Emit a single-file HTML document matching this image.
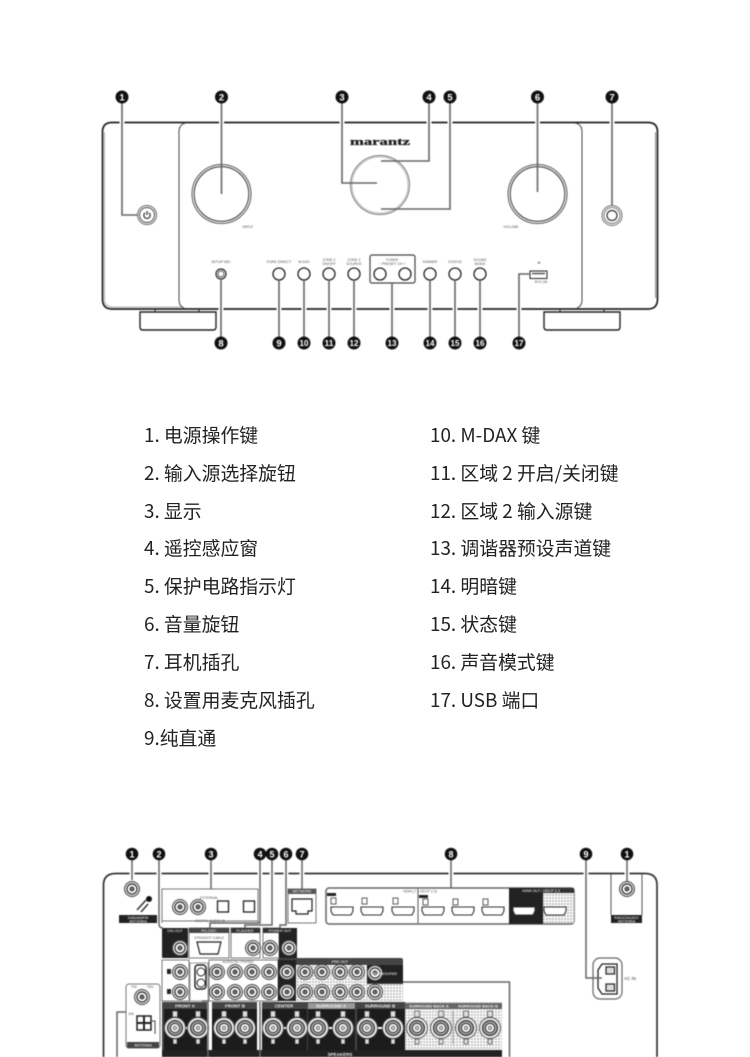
<!DOCTYPE html>
<html lang="zh"><head><meta charset="utf-8"><title>Marantz</title>
<style>
html,body{margin:0;padding:0;background:#fff}
#p{position:relative;width:750px;height:1057px;overflow:hidden;background:#fff}
svg{position:absolute;left:0;top:0;filter:blur(.4px)}
.t{position:absolute;font:18.85px/24px "Noto Sans CJK SC","Liberation Sans",sans-serif;color:#222;white-space:nowrap}
</style></head><body><div id="p">
<svg width="750" height="1057" viewBox="0 0 750 1057" font-family="Liberation Sans, sans-serif">
<defs>
<pattern id="dots" width="3" height="3" patternUnits="userSpaceOnUse"><rect width="3" height="3" fill="#fff"/><rect width="2" height="2" fill="#c4c4c4"/></pattern>
<g id="rca"><circle r="7.500" fill="#ddd" stroke="#444" stroke-width="1"/><circle r="5" fill="#fff" stroke="#333" stroke-width="1.200"/><circle r="2.200" fill="#666" stroke="#222" stroke-width=".6"/></g>
<g id="hdmi"><path d="M-11-4H11V0L9 4H-9L-11 0Z" fill="#fff" stroke="#333" stroke-width="1.100"/></g>
<g id="term"><circle r="10.500" fill="#eee" stroke="#555"/><circle r="7.500" fill="#999" stroke="#222"/><circle r="4.500" fill="#fff" stroke="#333"/><circle r="1.800" fill="#ccc" stroke="#333" stroke-width=".6"/><rect x="-2.500" y="-17" width="5" height="6" fill="#ddd" stroke="#333" stroke-width=".6"/><rect x="-2" y="11" width="4" height="5" fill="#ddd" stroke="#333" stroke-width=".6"/></g>
</defs>

<!-- FRONT -->
<g fill="none" stroke="#222">
<path d="M112 122.500H648Q657.500 122.500 657.500 132V299Q657.500 309 648 309H112Q102.500 309 102.500 299V132Q102.500 122.500 112 122.500Z" stroke-width="1.700"/>
<path d="M104.500 132V299Q104.500 306 111 307H182" stroke="#999" stroke-width=".8"/>
<path d="M186 123Q179 124 179 132V300Q179 306 184 308M575 123Q582 124 582 132V300Q582 306 577 308" stroke="#444" stroke-width="1"/>
<path d="M655.500 132V298" stroke="#888" stroke-width="1"/>
<path d="M140 312H216V327Q216 330 213 330H143Q140 330 140 327Z" stroke-width="1.400"/>
<path d="M544 312H620V327Q620 330 617 330H547Q544 330 544 327Z" stroke-width="1.400"/>
<path d="M155 309V312M199 309V312M560 309V312M604 309V312" stroke-width="1"/>
<circle cx="221.500" cy="194" r="29.500" stroke="#555" stroke-width="1"/><circle cx="221.500" cy="194" r="27.300" stroke="#444" stroke-width="1.100"/>
<circle cx="380" cy="185" r="29.500" stroke="#777" stroke-width="1"/><circle cx="380" cy="185" r="28" stroke="#bbb" stroke-width="1"/>
<circle cx="537.500" cy="194" r="29.500" stroke="#555" stroke-width="1"/><circle cx="537.500" cy="194" r="27.300" stroke="#444" stroke-width="1.100"/>
<circle cx="147" cy="215" r="9.500" stroke="#666" stroke-width="1"/><circle cx="147" cy="215" r="7.500" stroke="#444" stroke-width="1"/>
<path d="M145 212.800a3.200 3.200 0 1 0 4 0M147 211v4" stroke-width="1.100"/>
<circle cx="612" cy="215.500" r="10" stroke="#666"/><circle cx="612" cy="215.500" r="8" stroke="#777"/><circle cx="612" cy="215.500" r="5" stroke="#333" stroke-width="1.200"/>
<circle cx="221" cy="274" r="5" stroke-width="1.200"/><circle cx="221" cy="274" r="3" stroke="#555" stroke-width="1"/>
<rect x="370" y="255" width="45" height="28" rx="2" stroke="#444" stroke-width="1.200"/>
<rect x="530" y="271" width="17" height="7.500" stroke-width="1"/>
<path d="M532 273.500H545" stroke="#555" stroke-width="1.500"/>
</g>
<g fill="#fff" stroke="#222" stroke-width="1.300">
<circle cx="279" cy="274" r="6"/><circle cx="304" cy="274" r="6"/><circle cx="329" cy="274" r="6"/><circle cx="354" cy="274" r="6"/>
<circle cx="380" cy="274" r="6"/><circle cx="405" cy="274" r="6"/><circle cx="430" cy="274" r="6"/><circle cx="455" cy="274" r="6"/><circle cx="480" cy="274" r="6"/>
</g>
<text x="380" y="145" font-family="Liberation Serif, serif" font-weight="bold" font-size="11" text-anchor="middle" textLength="60" lengthAdjust="spacingAndGlyphs" fill="#222" stroke="#222" stroke-width=".35">marantz</text>
<g font-size="3.600" fill="#555" text-anchor="middle">
<text x="248" y="228">INPUT</text><text x="511" y="228">VOLUME</text>
<text x="221" y="263">SETUP MIC</text><text x="279" y="263">PURE DIRECT</text><text x="304" y="263">M-DAX</text>
<text x="329" y="261">ZONE 2</text><text x="329" y="265">ON/OFF</text><text x="354" y="261">ZONE 2</text><text x="354" y="265">SOURCE</text>
<text x="392" y="261">TUNER</text><text x="392" y="265">− PRESET CH +</text>
<text x="430" y="263">DIMMER</text><text x="455" y="263">STATUS</text><text x="480" y="261">SOUND</text><text x="480" y="265">MODE</text>
<text x="539" y="264">⇄</text><text x="541" y="283">5V/1.5A</text>
</g>
<!-- gaps in body lines at leaders -->
<path d="M122 120V126M221.500 120V126M342 120V126M429 120V126M450 120V126M537.500 120V126M612 120V126M221 306V312M279 306V312M304 306V312M329 306V312M354 306V312M392 306V312M430 306V312M455 306V312M480 306V312M519 306V312" stroke="#fff" stroke-width="5" fill="none"/>
<!-- front leaders -->
<g fill="none" stroke="#666" stroke-width="1.600">
<path d="M122 100V215H137"/><path d="M221.500 100V194"/><path d="M342 100V183H377"/><path d="M429 100V161H381"/><path d="M450 100V209H381"/><path d="M537.500 100V192"/><path d="M612 100V205"/>
<path d="M221 279V340M279 280V340M304 280V340M329 280V340M354 280V340M392 283V340M430 280V340M455 280V340M480 280V340"/>
<path d="M530 274H519V340"/>
</g>
<g fill="#111">
<circle cx="122" cy="97" r="6.500"/><circle cx="221.500" cy="97" r="6.500"/><circle cx="342" cy="97" r="6.500"/><circle cx="429" cy="97" r="6.500"/><circle cx="450" cy="97" r="6.500"/><circle cx="537.500" cy="97" r="6.500"/><circle cx="612" cy="97" r="6.500"/>
<circle cx="221" cy="343" r="6.500"/><circle cx="279" cy="343" r="6.500"/><circle cx="304" cy="343" r="6.500"/><circle cx="329" cy="343" r="6.500"/><circle cx="354" cy="343" r="6.500"/><circle cx="392" cy="343" r="6.500"/><circle cx="430" cy="343" r="6.500"/><circle cx="455" cy="343" r="6.500"/><circle cx="480" cy="343" r="6.500"/><circle cx="519" cy="343" r="6.500"/>
</g>
<g fill="#fff" font-weight="bold" font-size="9.500" text-anchor="middle">
<text x="122" y="100.500">1</text><text x="221.500" y="100.500">2</text><text x="342" y="100.500">3</text><text x="429" y="100.500">4</text><text x="450" y="100.500">5</text><text x="537.500" y="100.500">6</text><text x="612" y="100.500">7</text>
<text x="221" y="346.500">8</text><text x="279" y="346.500">9</text>
</g>
<g fill="#fff" font-weight="bold" font-size="8" text-anchor="middle">
<text x="304" y="346" textLength="9" lengthAdjust="spacingAndGlyphs">10</text><text x="329" y="346" textLength="9" lengthAdjust="spacingAndGlyphs">11</text><text x="354" y="346" textLength="9" lengthAdjust="spacingAndGlyphs">12</text><text x="392" y="346" textLength="9" lengthAdjust="spacingAndGlyphs">13</text><text x="430" y="346" textLength="9" lengthAdjust="spacingAndGlyphs">14</text><text x="455" y="346" textLength="9" lengthAdjust="spacingAndGlyphs">15</text><text x="480" y="346" textLength="9" lengthAdjust="spacingAndGlyphs">16</text><text x="519" y="346" textLength="9" lengthAdjust="spacingAndGlyphs">17</text>
</g>

<!-- REAR body -->
<path d="M103.500 1057V885Q103.500 873.500 116 873.500H645Q657 873.500 657 885V1057" fill="none" stroke="#333" stroke-width="1.700"/>
<path d="M132 871V876M159 871V876M211 871V876M260 871V876M272 871V876M286 871V876M302 871V876M451 871V876M586 871V876M627 871V876" stroke="#fff" stroke-width="5" fill="none"/>
<!-- top antenna -->
<path d="M611 874V915M642 874V915" stroke="#555" fill="none"/>
<rect x="119" y="915" width="38" height="8" fill="#222"/><rect x="611" y="915" width="31" height="8" fill="#222"/>
<use href="#rca" x="132" y="889"/><use href="#rca" x="627" y="889"/>
<circle cx="149" cy="899" r="3" fill="#111"/><path d="M137 910L146 900M141 912L148 904" stroke="#333" stroke-width="1.500" fill="none"/>
<!-- digital box -->
<path d="M162 923V889H258V923M162 921H258" fill="none" stroke="#777" stroke-width="1"/>
<use href="#rca" x="180" y="907"/><use href="#rca" x="198" y="907"/>
<rect x="217.500" y="901" width="11" height="11" fill="#fff" stroke="#222" stroke-width="1.300"/><rect x="243.500" y="901" width="11" height="11" fill="#fff" stroke="#222" stroke-width="1.300"/>
<!-- network -->
<rect x="288" y="889" width="28" height="34" fill="#fff" stroke="#777"/><rect x="288" y="889" width="28" height="5" fill="#555"/>
<path d="M292 899H312V911H308V914H296V911H292Z" fill="#fff" stroke="#222" stroke-width="1.200"/>
<!-- hdmi -->
<rect x="326" y="888" width="248" height="36" rx="3" fill="#fff" stroke="#666" stroke-width="1.500"/>
<rect x="509" y="888" width="65" height="5" fill="#333"/>
<rect x="509" y="888" width="34" height="36" fill="#222"/><rect x="543" y="893" width="31" height="30" fill="url(#dots)"/>
<path d="M418 889V923" stroke="#555"/>
<rect x="419" y="895" width="9" height="3" fill="#222"/><rect x="327" y="893" width="9" height="3" fill="#222"/>
<use href="#hdmi" x="342" y="911"/><use href="#hdmi" x="372" y="911"/><use href="#hdmi" x="403" y="911"/><use href="#hdmi" x="433" y="911"/><use href="#hdmi" x="463" y="911"/><use href="#hdmi" x="493" y="911"/><use href="#hdmi" x="524" y="911"/><use href="#hdmi" x="555" y="911"/>
<g fill="none" stroke="#333" stroke-width=".8"><rect x="331" y="898" width="5" height="6"/><rect x="362" y="898" width="5" height="6"/><rect x="393" y="898" width="5" height="6"/><rect x="423" y="899" width="5" height="6"/><rect x="453" y="899" width="5" height="6"/><rect x="483" y="899" width="5" height="6"/></g>
<!-- row 2 -->
<rect x="162" y="928" width="26" height="30" rx="1" fill="#222"/>
<rect x="189" y="928" width="40" height="30" fill="#fff" stroke="#777"/><rect x="189" y="928" width="40" height="5" fill="#444"/>
<rect x="231" y="928" width="29" height="30" fill="#fff" stroke="#777"/><rect x="231" y="928" width="29" height="5" fill="#333"/>
<rect x="263" y="928" width="16" height="30" fill="#fff" stroke="#777"/><rect x="263" y="928" width="34" height="5" fill="#333"/>
<rect x="279" y="928" width="18" height="30" fill="#222"/>
<use href="#rca" x="180" y="948"/><use href="#rca" x="253" y="948"/><use href="#rca" x="270" y="948"/><use href="#rca" x="289" y="948"/>
<path d="M197 942H221L218 954H200Z" fill="#fff" stroke="#222" stroke-width="1.200"/>
<!-- row 3 -->
<rect x="162" y="960" width="27" height="41" fill="#fff" stroke="#777"/>
<rect x="190" y="963" width="18" height="38" fill="#fff" stroke="#999"/>
<rect x="195" y="965" width="11" height="24" rx="3" fill="#fff" stroke="#222" stroke-width="1.500"/>
<circle cx="201" cy="972" r="4" fill="#fff" stroke="#222"/><circle cx="201" cy="983" r="4" fill="#fff" stroke="#222"/>
<rect x="209" y="960" width="69" height="41" fill="#fff" stroke="#777"/>
<rect x="278" y="958" width="125" height="43" rx="2" fill="#444"/><rect x="278" y="960" width="18" height="41" fill="#222"/>
<rect x="296" y="965" width="71" height="36" fill="url(#dots)"/><rect x="367" y="965" width="36" height="18" fill="#222"/><rect x="367" y="984" width="36" height="17" fill="url(#dots)"/>
<rect x="167" y="969" width="4" height="5" fill="#222"/><rect x="167" y="989" width="4" height="5" fill="#222"/>
<use href="#rca" x="180" y="972"/><use href="#rca" x="180" y="992"/>
<use href="#rca" x="217" y="972"/><use href="#rca" x="235" y="972"/><use href="#rca" x="252" y="972"/><use href="#rca" x="269" y="972"/>
<use href="#rca" x="217" y="992"/><use href="#rca" x="235" y="992"/><use href="#rca" x="252" y="992"/><use href="#rca" x="269" y="992"/>
<use href="#rca" x="287" y="972"/><use href="#rca" x="287" y="992"/>
<use href="#rca" x="305" y="972"/><use href="#rca" x="322" y="972"/><use href="#rca" x="340" y="972"/><use href="#rca" x="357" y="972"/>
<use href="#rca" x="305" y="992"/><use href="#rca" x="322" y="992"/><use href="#rca" x="340" y="992"/><use href="#rca" x="357" y="992"/>
<use href="#rca" x="375" y="973"/><use href="#rca" x="375" y="992"/>
<!-- speakers -->
<rect x="162" y="1002" width="340" height="55" fill="#444"/>
<rect x="405" y="1002" width="97" height="48" fill="url(#dots)"/>
<rect x="164" y="1009" width="43" height="41" fill="#1c1c1c"/><rect x="212" y="1009" width="45" height="41" fill="#1c1c1c"/>
<rect x="207" y="1002" width="5" height="48" fill="#fff"/><rect x="257" y="1002" width="5" height="48" fill="#fff"/>
<rect x="262" y="1009" width="45" height="41" fill="#1c1c1c"/><rect x="308" y="1009" width="47" height="41" fill="#1c1c1c"/><rect x="357" y="1009" width="48" height="41" fill="#1c1c1c"/>
<rect x="162" y="1050" width="340" height="7" fill="#222"/>
<rect x="405" y="1003" width="97" height="6" fill="#666"/><rect x="308" y="1003" width="47" height="6" fill="#999"/>
<path d="M453 1011V1044" stroke="#999"/>
<g stroke="#fff" stroke-width="2"><path d="M175 1028H198M224 1028H245M273 1028H297M318 1028H343M367 1028H393M417 1028H441M466 1028H490"/></g>
<use href="#term" x="175" y="1028"/><use href="#term" x="198" y="1028"/><use href="#term" x="224" y="1028"/><use href="#term" x="245" y="1028"/><use href="#term" x="273" y="1028"/><use href="#term" x="297" y="1028"/><use href="#term" x="318" y="1028"/><use href="#term" x="343" y="1028"/><use href="#term" x="367" y="1028"/><use href="#term" x="393" y="1028"/><use href="#term" x="417" y="1028"/><use href="#term" x="441" y="1028"/><use href="#term" x="466" y="1028"/><use href="#term" x="490" y="1028"/>
<!-- ant box -->
<rect x="126" y="984" width="34" height="64" rx="3" fill="#fff" stroke="#777"/><rect x="127" y="1042" width="32" height="6" fill="#444"/>
<use href="#rca" x="142" y="997"/>
<rect x="137" y="1016" width="14" height="14" fill="#fff" stroke="#222" stroke-width="1.500"/><path d="M137 1023H151M144 1016V1030" stroke="#222" stroke-width="2"/><path d="M151 1021H155V1034" fill="none" stroke="#444"/>
<!-- AC -->
<rect x="593" y="958" width="29" height="41" rx="7" fill="#fff" stroke="#666" stroke-width="1.200"/>
<path d="M602 964H617V994H602L598 988V970Z" fill="#fff" stroke="#222" stroke-width="1.300"/>
<rect x="606" y="967" width="8.500" height="7" fill="#ddd" stroke="#222" stroke-width="1.200"/><rect x="606" y="984" width="8.500" height="7" fill="#ddd" stroke="#222" stroke-width="1.200"/>
<text x="630" y="980" font-size="4.500" fill="#444" text-anchor="middle">AC IN</text>
<!-- rear small labels -->
<g font-size="3.700" fill="#fff" text-anchor="middle">
<text x="138" y="919">DAB/AM/FM</text><text x="138" y="922.500">ANTENNA</text>
<text x="626.500" y="919">RADIO/AUDIO</text><text x="626.500" y="922.500">ANTENNA</text>
<text x="302" y="892.500">NETWORK</text><text x="541" y="892">HDMI OUT / HDCP 2.3</text>
<text x="175" y="932">DIG.OUT</text><text x="209" y="932">RS-232C</text><text x="245" y="932">FLASHER</text><text x="280" y="932">POWER OUT</text>
<text x="340" y="963">PRE OUT</text><text x="385" y="975">SUBWOOFER</text>
<text x="143" y="1046.500">ANTENNA</text>
</g>
<g font-size="4.500" font-weight="bold" fill="#eee" text-anchor="middle">
<text x="185" y="1007.500">FRONT A</text><text x="235" y="1007.500">FRONT B</text><text x="284" y="1007.500">CENTER</text><text x="331" y="1007.500">SURROUND A</text><text x="380" y="1007.500">SURROUND B</text><text x="429" y="1007.500" font-size="4">SURROUND BACK A</text><text x="478" y="1007.500" font-size="4">SURROUND BACK B</text><text x="340" y="1056">SPEAKERS</text>
</g>
<g font-size="3.500" fill="#555" text-anchor="middle">
<text x="420" y="892.500">HDMI (7.1 HDCP 2.3)</text><text x="209" y="899">EXTERNAL</text><text x="210" y="922">DIGITAL AUDIO IN</text><text x="209" y="939">STRAIGHT CABLE</text><text x="238" y="963">AUDIO IN / PHONO</text>
<text x="134" y="988">FM</text><text x="150" y="988">75Ω</text><text x="131" y="1015">AM</text>
</g>
<!-- rear leaders -->
<g fill="none" stroke="#666" stroke-width="1.500">
<path d="M132 857V880"/><path d="M159 857V924Q159 928 163 928"/><path d="M211 857V889"/><path d="M260 857V923H210V928"/><path d="M272 857V925H245V928"/><path d="M286 857V925H280V928"/><path d="M302 857V889"/><path d="M451 857V888"/><path d="M586 857V978H602"/><path d="M627 857V881"/>
<path d="M126 1012H117V1057"/><path d="M202 1001H208V1057"/><path d="M260 1002V1057"/><path d="M403 982H509.500V1057"/>
</g>
<g fill="#111">
<circle cx="132" cy="854" r="6.300"/><circle cx="159" cy="854" r="6.300"/><circle cx="211" cy="854" r="6.300"/><circle cx="260" cy="854" r="6.300"/><circle cx="272" cy="854" r="6.300"/><circle cx="286" cy="854" r="6.300"/><circle cx="302" cy="854" r="6.300"/><circle cx="451" cy="854" r="6.300"/><circle cx="586" cy="854" r="6.300"/><circle cx="627" cy="854" r="6.300"/>
</g>
<g fill="#fff" font-weight="bold" font-size="9" text-anchor="middle">
<text x="132" y="857.500">1</text><text x="159" y="857.500">2</text><text x="211" y="857.500">3</text><text x="260" y="857.500">4</text><text x="272" y="857.500">5</text><text x="286" y="857.500">6</text><text x="302" y="857.500">7</text><text x="451" y="857.500">8</text><text x="586" y="857.500">9</text><text x="627" y="857.500">1</text>
</g>
</svg>

<div class="t" style="left:144px;top:423px">1. 电源操作键</div>
<div class="t" style="left:144px;top:461px">2. 输入源选择旋钮</div>
<div class="t" style="left:144px;top:499px">3. 显示</div>
<div class="t" style="left:144px;top:536px">4. 遥控感应窗</div>
<div class="t" style="left:144px;top:574px">5. 保护电路指示灯</div>
<div class="t" style="left:144px;top:612px">6. 音量旋钮</div>
<div class="t" style="left:144px;top:650px">7. 耳机插孔</div>
<div class="t" style="left:144px;top:688px">8. 设置用麦克风插孔</div>
<div class="t" style="left:144px;top:726px">9.纯直通</div>
<div class="t" style="left:430px;top:423px">10. M-DAX 键</div>
<div class="t" style="left:430px;top:461px">11. 区域 2 开启/关闭键</div>
<div class="t" style="left:430px;top:499px">12. 区域 2 输入源键</div>
<div class="t" style="left:430px;top:536px">13. 调谐器预设声道键</div>
<div class="t" style="left:430px;top:574px">14. 明暗键</div>
<div class="t" style="left:430px;top:612px">15. 状态键</div>
<div class="t" style="left:430px;top:650px">16. 声音模式键</div>
<div class="t" style="left:430px;top:688px">17. USB 端口</div>
</div></body></html>
